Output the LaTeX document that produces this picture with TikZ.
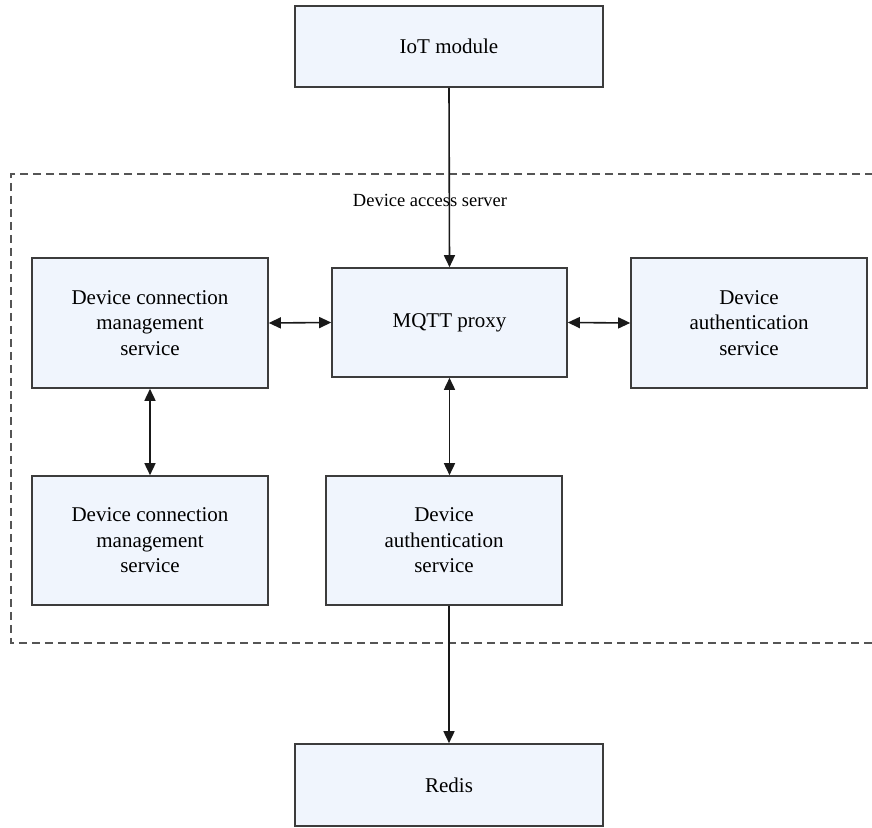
\documentclass[tikz,border=0pt]{standalone}
\usepackage{fontspec}
\setmainfont{Liberation Serif}
\usetikzlibrary{arrows.meta}
\definecolor{boxfill}{HTML}{F0F5FD}
\definecolor{boxline}{HTML}{3C3C3C}
\definecolor{dashline}{HTML}{555555}
\begin{document}
\begin{tikzpicture}[x=1pt,y=1pt,
  block/.style={draw=boxline, line width=1.6pt, fill=boxfill, inner sep=0pt,
    align=center, font=\fontsize{21}{25.5}\selectfont},
  link/.style={line width=1.6pt, draw=black!90},
  tip/.tip={Triangle[length=12pt,width=11pt]},
  oneway/.style={link,-tip},
  twoway/.style={link,tip-tip}]
\useasboundingbox (0,0) rectangle (872,827);

% boundary of the device access server (open on the right side)
\draw[dashline, line width=1.3pt, dash pattern=on 8pt off 5pt]
  (873,653) -- (11,653) -- (11,184) -- (873,184);
\node[font=\fontsize{18.5}{22}\selectfont] (dasLabel) at (430,627) {Device access server};

% blocks
\node[block, minimum width=308, minimum height=81] (iot) at (449,780.5) {IoT module};
\node[block, minimum width=235, minimum height=109] (mqtt) at (449.5,504.5) {MQTT proxy};
\node[block, minimum width=236, minimum height=130] (dcm1) at (150,504)
  {Device connection\\management\\service};
\node[block, minimum width=236, minimum height=130] (das1) at (749,504)
  {Device\\authentication\\service};
\node[block, minimum width=236, minimum height=129] (dcm2) at (150,286.5)
  {Device connection\\management\\service};
\node[block, minimum width=236, minimum height=129] (das2) at (444,286.5)
  {Device\\authentication\\service};
\node[block, minimum width=308, minimum height=82] (redis) at (449,42) {Redis};

% connectors
\draw[oneway] (iot.south) -- (mqtt.north);
\draw[twoway] (dcm1.east) -- (mqtt.west);
\draw[twoway] (mqtt.east) -- (das1.west);
\draw[twoway] (dcm1.south) -- (dcm2.north);
\draw[twoway] (mqtt.south) -- (mqtt.south |- das2.north);
\draw[oneway] (redis.north |- das2.south) -- (redis.north);
\end{tikzpicture}
\end{document}
